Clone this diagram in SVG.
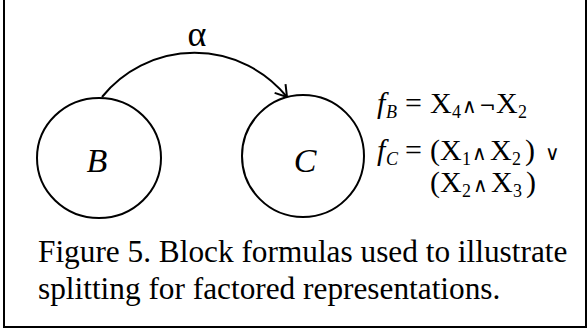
<svg xmlns="http://www.w3.org/2000/svg" width="588" height="332" viewBox="0 0 588 332">
<style>
.ln{fill:none;stroke:#000;stroke-width:2}
.node{fill:#fff;stroke:#000;stroke-width:2}
.t{font-family:"Liberation Serif","Times New Roman",serif;fill:#000}
.it{font-style:italic}
.sub{font-size:18px}
.op{font-family:"DejaVu Serif","Liberation Serif",serif;font-size:20px}
</style>
<defs>
<marker id="ah" markerUnits="userSpaceOnUse" markerWidth="24" markerHeight="24" refX="0" refY="0" viewBox="-12 -12 24 24" orient="auto">
<path d="M-11,-7 L0,0 L-11,7" fill="none" stroke="#000" stroke-width="2"/>
</marker>
</defs>
<g id="frame">
<path class="ln" d="M4,0 V327 H586 V0"/>
</g>
<g id="connectors">
<path class="ln" d="M102,97 A119,119 0 0,1 287,97" marker-end="url(#ah)"/>
<text class="t" x="197" y="46" font-size="36" text-anchor="middle">α</text>
</g>
<g id="node-B">
<ellipse class="node" cx="99" cy="158" rx="62" ry="60"/>
<text class="t it" x="97" y="172" font-size="34" text-anchor="middle">B</text>
</g>
<g id="node-C">
<ellipse class="node" cx="303" cy="156" rx="61" ry="61"/>
<text class="t it" x="305" y="172" font-size="34" text-anchor="middle">C</text>
</g>
<g id="formulas" class="t" font-size="30">
<text y="113"><tspan x="377" class="it">f</tspan><tspan x="386" dy="5" class="it sub">B</tspan><tspan x="405" dy="-5">=</tspan><tspan x="430">X</tspan><tspan x="452" dy="5" class="sub">4</tspan><tspan x="462" dy="-5" class="op">∧</tspan><tspan x="479" class="op">¬</tspan><tspan x="496">X</tspan><tspan x="518" dy="5" class="sub">2</tspan></text>
<text y="160"><tspan x="377" class="it">f</tspan><tspan x="386" dy="5" class="it sub">C</tspan><tspan x="405" dy="-5">=</tspan><tspan x="430">(</tspan><tspan x="440">X</tspan><tspan x="462" dy="5" class="sub">1</tspan><tspan x="472" dy="-5" class="op">∧</tspan><tspan x="490">X</tspan><tspan x="512" dy="5" class="sub">2</tspan><tspan x="525" dy="-5">)</tspan><tspan x="545" class="op">∨</tspan></text>
<text y="192"><tspan x="430">(</tspan><tspan x="440">X</tspan><tspan x="462" dy="5" class="sub">2</tspan><tspan x="473" dy="-5" class="op">∧</tspan><tspan x="491">X</tspan><tspan x="513" dy="5" class="sub">3</tspan><tspan x="526" dy="-5">)</tspan></text>
</g>
<g id="caption" class="t" font-size="31.3">
<text x="38" y="262">Figure 5. Block formulas used to illustrate</text>
<text x="38" y="299">splitting for factored representations.</text>
</g>
</svg>
